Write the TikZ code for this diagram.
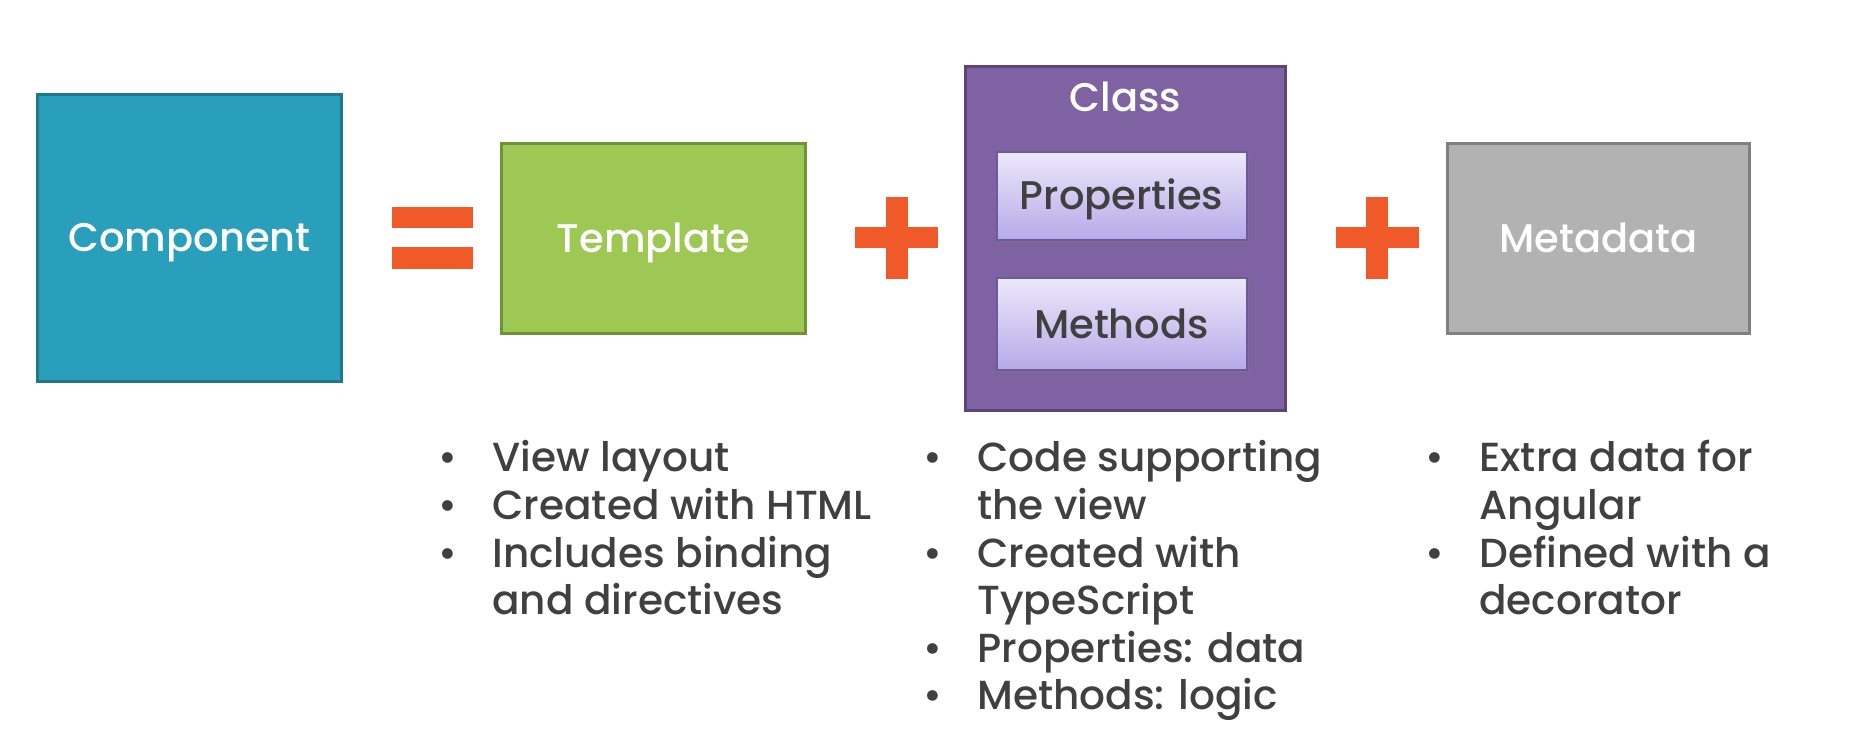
\documentclass[tikz,border=0pt]{standalone}
\usepackage{fontspec}
\setmainfont{Poppins}[UprightFont=* Medium]
\usetikzlibrary{shadows}

\definecolor{compblue}{HTML}{2A9FBC}
\definecolor{compedge}{HTML}{23778C}
\definecolor{tplgreen}{HTML}{9DC853}
\definecolor{tpledge}{HTML}{6F9137}
\definecolor{clspurple}{HTML}{7E62A1}
\definecolor{clsedge}{HTML}{5B4677}
\definecolor{membertop}{HTML}{ECE8FB}
\definecolor{memberbot}{HTML}{B5AAE7}
\definecolor{memberedge}{HTML}{6B5B9E}
\definecolor{metagray}{HTML}{B2B2B2}
\definecolor{metaedge}{HTML}{808080}
\definecolor{signorange}{HTML}{F05A28}
\definecolor{notegray}{HTML}{404040}

\tikzset{
  box/.style={draw, line width=1.5pt, inner sep=0pt, text=white,
    text height=14pt, text depth=0pt, font=\fontsize{20}{24}\selectfont},
  memberbox/.style={draw=memberedge, line width=1pt, inner sep=0pt,
    top color=membertop, bottom color=memberbot, text=notegray,
    text height=14pt, text depth=0pt, minimum width=125pt,
    drop shadow={shadow xshift=1pt, shadow yshift=-1.5pt, opacity=0.35},
    font=\fontsize{20}{24}\selectfont},
  notes/.style={anchor=base west, inner sep=0pt, text=notegray,
    font=\fontsize{20.3}{23.8}\selectfont}
}

\begin{document}
\begin{tikzpicture}[x=0.5pt, y=-0.5pt]
\useasboundingbox (0,0) rectangle (1870,742);

% boxes
\node [box, fill=compblue, draw=compedge, minimum width=152pt, minimum height=143.5pt] (component) at (189.5,238) {Component};
\node [box, fill=tplgreen, draw=tpledge, minimum width=152pt, minimum height=95pt] (template) at (653.5,238.5) {Template};
\node [box, fill=clspurple, draw=clsedge, minimum width=160pt, minimum height=172pt] (class) at (1125.5,238.5) {};
\node [text=white, font=\fontsize{20}{24}\selectfont, text height=14pt, text depth=0pt, inner sep=0pt] (classlabel) at (1125.5,98) {Class};
\node [memberbox, minimum height=44pt] (properties) at (1121.5,196) {Properties};
\node [memberbox, minimum height=46pt] (methods) at (1121.5,324.5) {Methods};
\node [box, fill=metagray, draw=metaedge, minimum width=151pt, minimum height=95pt] (metadata) at (1598.5,239) {Metadata};

% = and +
\fill [signorange] (392,207) rectangle (473,228);
\fill [signorange] (392,247) rectangle (473,269);
\foreach \cx in {896.5,1377}{
  \fill [signorange] (\cx-41.5,227) rectangle (\cx+41.5,248);
  \fill [signorange] (\cx-11,197) rectangle (\cx+11,279);
}

% bullet lists
\node [notes] (templatenotes) at (438,472) {\begin{tabular}[t]{@{}p{27pt}@{}l@{}}
• & View layout\\
• & Created with HTML\\
• & Includes binding\\
  & and directives
\end{tabular}};
\node [notes] (classnotes) at (923,472) {\begin{tabular}[t]{@{}p{27pt}@{}l@{}}
• & Code supporting\\
  & the view\\
• & Created with\\
  & TypeScript\\
• & Properties: data\\
• & Methods: logic
\end{tabular}};
\node [notes] (metanotes) at (1425,472) {\begin{tabular}[t]{@{}p{27pt}@{}l@{}}
• & Extra data for\\
  & Angular\\
• & Defined with a\\
  & decorator
\end{tabular}};

\end{tikzpicture}
\end{document}
